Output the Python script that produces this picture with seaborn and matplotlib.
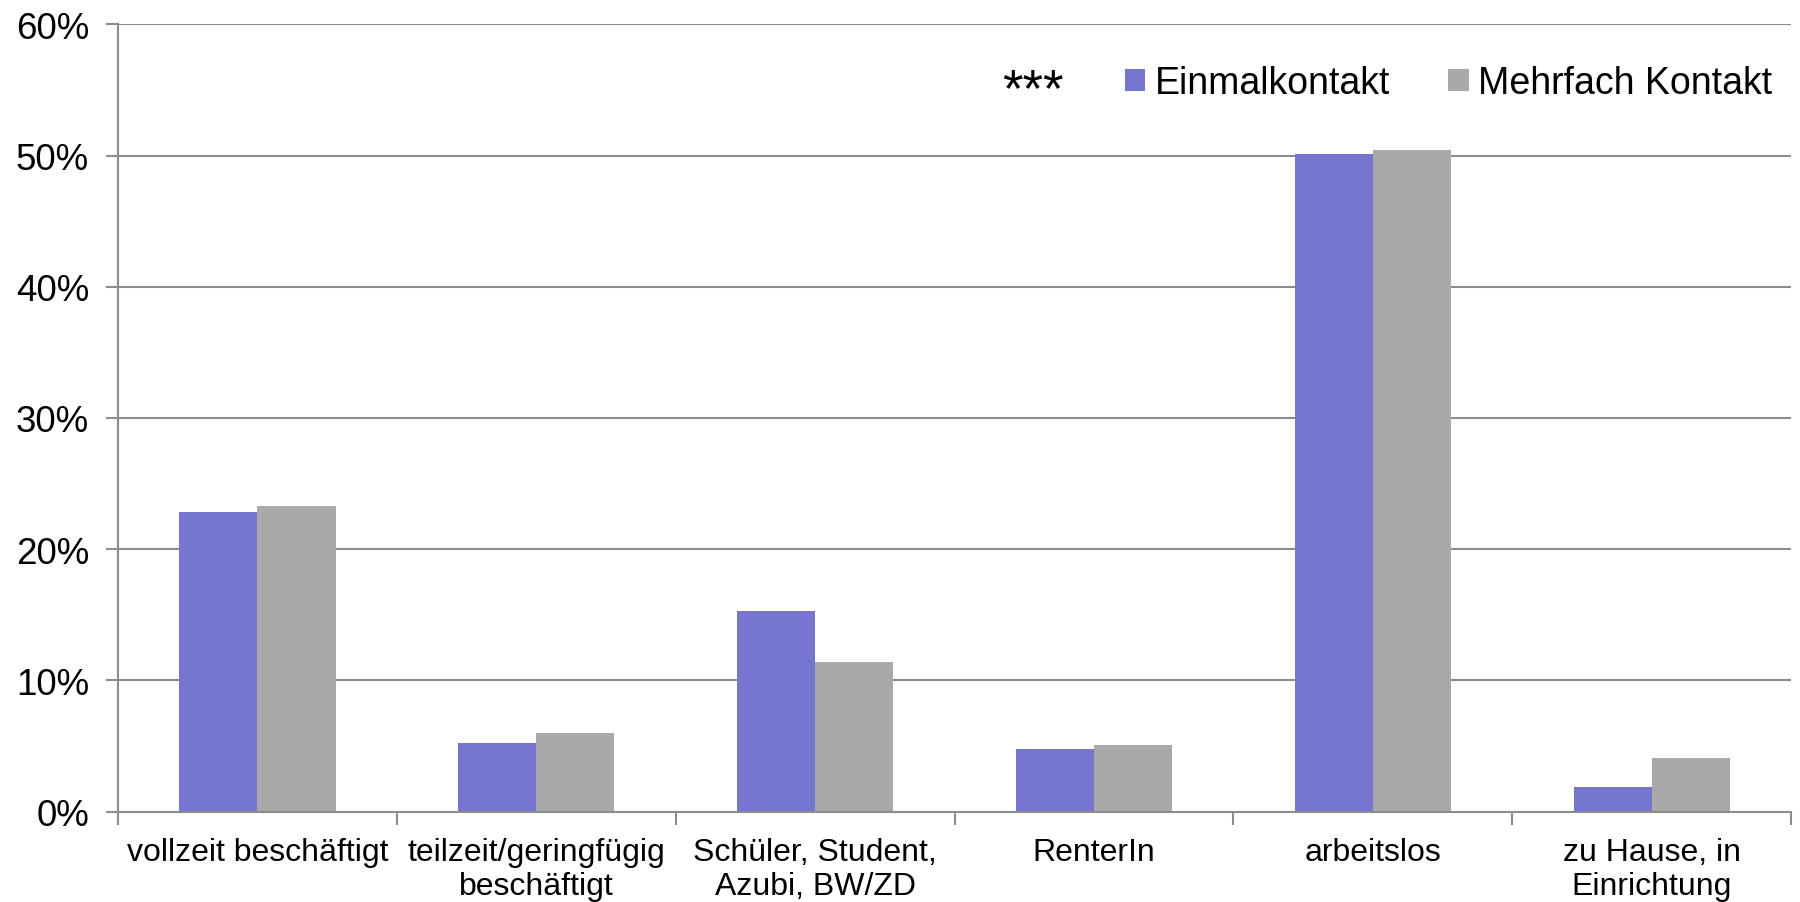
import matplotlib
matplotlib.use('Agg')
import matplotlib.pyplot as plt
import seaborn as sns
import pandas as pd
from matplotlib.ticker import FixedLocator, PercentFormatter

# datos
categorias = ['vollzeit beschäftigt', 'teilzeit/geringfügig\nbeschäftigt',
              'Schüler, Student,\nAzubi, BW/ZD', 'RenterIn', 'arbeitslos',
              'zu Hause, in\nEinrichtung']
einmalkontakt = [22.8, 5.25, 15.3, 4.8, 50.1, 1.9]
mehrfach_kontakt = [23.3, 6.0, 11.4, 5.1, 50.4, 4.1]
series = ['Einmalkontakt', 'Mehrfach Kontakt']

df = pd.DataFrame({
    'Kategorie': categorias * 2,
    'Wert': einmalkontakt + mehrfach_kontakt,
    'Serie': [series[0]] * len(categorias) + [series[1]] * len(categorias),
})

sns.set_style('white')
plt.rcParams['font.family'] = ['Liberation Sans', 'DejaVu Sans']
plt.rcParams['text.color'] = 'black'
plt.rcParams['xtick.color'] = 'black'
plt.rcParams['ytick.color'] = 'black'

colores = ['#7675CF', '#A9A9A9']
gris = '#8C8C8C'

fig = plt.figure(figsize=(18, 9.03), dpi=100)
ax = fig.add_axes([0.0656, 0.1, 0.9294, 0.872])

sns.barplot(data=df, x='Kategorie', y='Wert', hue='Serie', palette=colores,
            width=0.56, saturation=1, ax=ax, edgecolor='none')

ax.set_ylim(0, 60)
ax.set_xlim(-0.5, 5.5)
ax.set_yticks(range(0, 61, 10))
ax.yaxis.set_major_formatter(PercentFormatter(decimals=0))
ax.grid(axis='y', color=gris, linewidth=1.5)
ax.set_axisbelow(True)

# ticks del eje x en los limites entre categorias
ax.xaxis.set_minor_locator(FixedLocator([i - 0.5 for i in range(7)]))
ax.tick_params(axis='x', which='major', length=0, pad=18, labelsize=23)
ax.tick_params(axis='x', which='minor', length=9, width=1.5, color=gris, direction='out', bottom=True)
ax.tick_params(axis='y', length=9, width=1.5, color=gris, direction='out', left=True, pad=12, labelsize=26.5)
ax.set_xlabel('')
ax.set_ylabel('')

for lado in ['top', 'right']:
    ax.spines[lado].set_visible(False)
for lado in ['left', 'bottom']:
    ax.spines[lado].set_color(gris)
    ax.spines[lado].set_linewidth(1.5)

ax.text(0.547, 0.915, '***', transform=ax.transAxes, ha='center', va='center', fontsize=38)
ax.legend(loc='center', bbox_to_anchor=(0.7953, 0.925), ncol=2, frameon=False,
          fontsize=27, handlelength=0.55, handleheight=0.55, handletextpad=0.25,
          columnspacing=1.56)

plt.savefig('out.png', dpi=100)
